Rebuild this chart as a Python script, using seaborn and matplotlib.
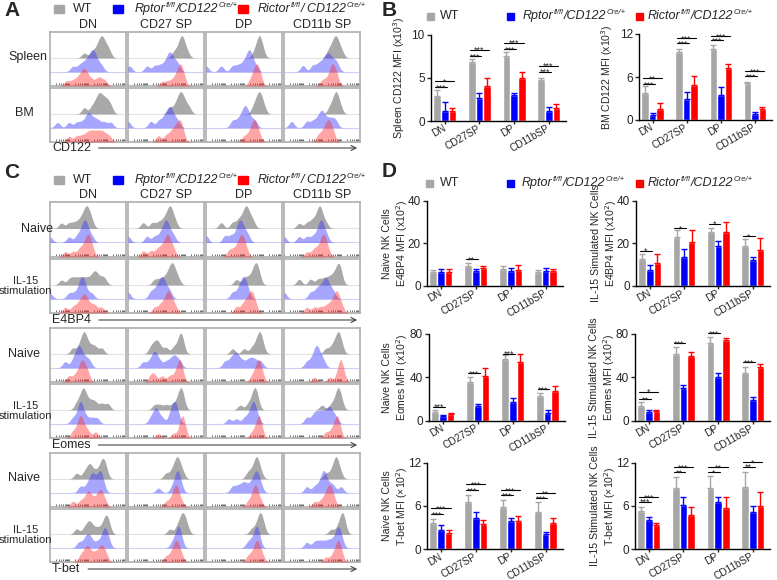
import numpy as np
import pandas as pd
import seaborn as sns
import matplotlib.pyplot as plt
from matplotlib.patches import Rectangle, FancyArrowPatch

W, H = 777, 580

# ---------------- data ----------------
CELL_TYPES = ['DN', 'CD27SP', 'DP', 'CD11bSP']
FLOW_COLUMNS = ['DN', 'CD27 SP', 'DP', 'CD11b SP']
GENOTYPES = ['WT', 'Rptor', 'Rictor']

# bar charts: rows are WT, Rptor, Rictor; values per cell type
SPLEEN_CD122 = [[2.85, 6.85, 7.55, 4.7], [1.2, 2.7, 2.95, 1.15], [1.1, 4.0, 4.95, 1.5]]
SPLEEN_CD122_ERR = [[0.7, 0.3, 0.4, 0.3], [1.05, 0.55, 0.3, 0.5], [0.45, 1.0, 0.75, 0.45]]
BM_CD122 = [[3.8, 9.5, 9.9, 5.1], [0.7, 3.0, 3.5, 0.85], [1.6, 4.9, 7.2, 1.6]]
BM_CD122_ERR = [[0.95, 0.4, 0.55, 0.25], [0.3, 0.95, 1.15, 0.3], [0.8, 1.25, 0.55, 0.25]]
E4BP4_NAIVE_MFI = [[6.6, 9.4, 8.1, 6.7], [6.6, 7.0, 6.9, 7.1], [6.7, 8.4, 7.6, 7.1]]
E4BP4_NAIVE_ERR = [[0.7, 1.2, 1.5, 0.9], [1.6, 0.8, 1.7, 1.2], [1.1, 1.2, 2.3, 0.8]]
E4BP4_IL15_MFI = [[12.8, 22.8, 25.1, 18.9], [7.7, 13.8, 18.9, 12.3], [10.8, 20.5, 25.1, 16.9]]
E4BP4_IL15_ERR = [[2.3, 3.4, 2.3, 3.1], [2.0, 3.4, 2.3, 1.2], [4.0, 5.7, 5.1, 5.6]]
EOMES_NAIVE_MFI = [[7.7, 36, 56.6, 23], [4.6, 13.5, 17.5, 7.1], [6.5, 41.5, 54.5, 27.7]]
EOMES_NAIVE_ERR = [[2.1, 4, 4, 2.8], [0.9, 1.6, 3.1, 2.7], [0.9, 6.8, 7.5, 4.3]]
EOMES_IL15_MFI = [[13.8, 61.5, 71.4, 44.3], [8.3, 29.8, 40, 19.1], [8.9, 59.7, 74.5, 49.8]]
EOMES_IL15_ERR = [[3.7, 6.8, 6.1, 5.5], [1.5, 3.1, 4.3, 3.1], [0.6, 4.0, 2.1, 2.5]]
TBET_NAIVE_MFI = [[3.7, 6.6, 5.9, 5.2], [2.7, 4.3, 3.9, 2.1], [2.26, 3.5, 3.9, 3.6]]
TBET_NAIVE_ERR = [[0.5, 0.9, 1.0, 1.4], [0.7, 0.9, 0.4, 0.35], [0.45, 0.55, 0.7, 0.7]]
TBET_IL15_MFI = [[5.3, 8.45, 8.55, 8.7], [4.05, 6.1, 6.6, 5.1], [3.4, 4.75, 5.7, 6.05]]
TBET_IL15_ERR = [[0.5, 1.55, 1.65, 2.05], [0.45, 1.2, 0.6, 0.95], [0.2, 1.05, 1.6, 1.95]]

# significance: (cell type, compared genotype, height, label)
SPLEEN_SIG = [(0, 1, 3.9, '***'), (0, 2, 4.6, '*'), (1, 1, 7.5, '***'), (1, 2, 8.25, '***'),
              (2, 1, 8.35, '***'), (2, 2, 9.05, '***'), (3, 1, 5.7, '***'), (3, 2, 6.4, '***')]
BM_SIG = [(0, 1, 5.0, '***'), (0, 2, 5.8, '**'), (1, 1, 10.7, '***'), (1, 2, 11.4, '***'),
          (2, 1, 11.1, '***'), (2, 2, 11.75, '***'), (3, 1, 6.15, '***'), (3, 2, 6.85, '***')]
E4BP4_NAIVE_SIG = [(1, 1, 12.5, '**')]
E4BP4_IL15_SIG = [(0, 1, 16.6, '*'), (1, 1, 27.1, '*'), (2, 1, 29.2, '*'), (3, 1, 23.5, '*')]
EOMES_NAIVE_SIG = [(0, 1, 12.9, '***'), (1, 1, 43.7, '***'), (2, 1, 62, '***'), (3, 1, 29.2, '***')]
EOMES_IL15_SIG = [(0, 1, 20, '**'), (0, 2, 26.8, '*'), (1, 1, 71.4, '***'), (2, 1, 80.6, '***'),
                  (3, 1, 53.8, '***')]
TBET_NAIVE_SIG = [(0, 1, 4.9, '***'), (0, 2, 5.7, '***'), (1, 1, 8.2, '***'), (1, 2, 9.0, '***'),
                  (2, 1, 7.5, '***'), (2, 2, 8.2, '***'), (3, 1, 7.1, '***'), (3, 2, 7.75, '**')]
TBET_IL15_SIG = [(0, 1, 6.6, '***'), (0, 2, 7.2, '***'), (1, 1, 10.7, '**'), (1, 2, 11.35, '***'),
                 (2, 1, 10.65, '*'), (2, 2, 11.4, '**'), (3, 1, 11.45, '**'), (3, 2, 12.1, '*')]

# flow histograms: per column, event positions (0-1 of axis) for WT, Rptor, Rictor
A_SPLEEN = [
    [[0.45, 0.55, 0.6, 0.63, 0.66, 0.67, 0.68, 0.7, 0.72, 0.75, 0.78],
     [0.3, 0.38, 0.43, 0.47, 0.5, 0.53, 0.55, 0.56, 0.58, 0.6, 0.63, 0.68],
     [0.22, 0.3, 0.36, 0.4, 0.43, 0.45, 0.47, 0.5, 0.55, 0.62, 0.66, 0.72]],
    [[0.6, 0.65, 0.68, 0.7, 0.71, 0.72, 0.74, 0.78],
     [0.02, 0.25, 0.35, 0.42, 0.48, 0.52, 0.54, 0.56, 0.58, 0.62, 0.66],
     [0.45, 0.52, 0.58, 0.62, 0.65, 0.67, 0.68, 0.69, 0.7, 0.72, 0.74]],
    [[0.63, 0.67, 0.69, 0.7, 0.71, 0.72, 0.75],
     [0.0, 0.2, 0.35, 0.42, 0.48, 0.52, 0.55, 0.57, 0.58, 0.6, 0.65],
     [0.58, 0.62, 0.64, 0.66, 0.67, 0.68, 0.7, 0.72]],
    [[0.58, 0.62, 0.65, 0.67, 0.68, 0.7, 0.72, 0.76],
     [0.25, 0.38, 0.45, 0.5, 0.54, 0.57, 0.59, 0.62, 0.66, 0.7],
     [0.5, 0.55, 0.6, 0.62, 0.63, 0.64, 0.66, 0.68, 0.7]],
]
A_BM = [
    [[0.45, 0.55, 0.6, 0.63, 0.65, 0.67, 0.7, 0.73, 0.76, 0.8],
     [0.1, 0.25, 0.35, 0.42, 0.48, 0.5, 0.52, 0.56, 0.6, 0.65, 0.72, 0.8],
     [0.25, 0.35, 0.42, 0.48, 0.52, 0.56, 0.6, 0.64, 0.68, 0.72, 0.78]],
    [[0.55, 0.62, 0.66, 0.68, 0.7, 0.72, 0.75, 0.8],
     [0.0, 0.3, 0.4, 0.46, 0.5, 0.53, 0.55, 0.57, 0.6, 0.65],
     [0.4, 0.5, 0.56, 0.6, 0.63, 0.66, 0.68, 0.7, 0.72]],
    [[0.62, 0.66, 0.68, 0.7, 0.71, 0.73, 0.76],
     [0.35, 0.42, 0.47, 0.5, 0.52, 0.54, 0.58, 0.64],
     [0.5, 0.56, 0.6, 0.62, 0.63, 0.65, 0.67, 0.7]],
    [[0.6, 0.64, 0.67, 0.68, 0.69, 0.71, 0.74],
     [0.1, 0.3, 0.38, 0.44, 0.48, 0.5, 0.53, 0.58, 0.63, 0.68],
     [0.45, 0.5, 0.54, 0.56, 0.58, 0.6, 0.62, 0.65]],
]
E4BP4_NAIVE = [
    [[0.15, 0.25, 0.32, 0.38, 0.42, 0.45, 0.47, 0.48, 0.5, 0.52, 0.55],
     [0.0, 0.25, 0.35, 0.4, 0.43, 0.45, 0.46, 0.48, 0.5, 0.55],
     [0.2, 0.3, 0.38, 0.42, 0.46, 0.48, 0.5, 0.51, 0.53, 0.56]],
    [[0.2, 0.32, 0.4, 0.46, 0.5, 0.53, 0.55, 0.56, 0.58, 0.62],
     [0.0, 0.25, 0.35, 0.42, 0.46, 0.49, 0.5, 0.52, 0.55, 0.6],
     [0.2, 0.3, 0.38, 0.43, 0.47, 0.5, 0.52, 0.53, 0.56, 0.6]],
    [[0.2, 0.35, 0.42, 0.46, 0.5, 0.52, 0.53, 0.55, 0.58, 0.62],
     [0.0, 0.25, 0.33, 0.4, 0.43, 0.45, 0.47, 0.5, 0.55],
     [0.3, 0.35, 0.4, 0.43, 0.45, 0.47, 0.48, 0.5, 0.53]],
    [[0.2, 0.3, 0.36, 0.4, 0.44, 0.46, 0.47, 0.48, 0.5, 0.55],
     [0.0, 0.2, 0.3, 0.38, 0.44, 0.47, 0.48, 0.5, 0.52, 0.56],
     [0.3, 0.38, 0.42, 0.46, 0.49, 0.51, 0.52, 0.53, 0.55, 0.58]],
]
E4BP4_IL15 = [
    [[0.15, 0.25, 0.3, 0.35, 0.4, 0.45, 0.5, 0.55, 0.58, 0.6, 0.63, 0.68, 0.72],
     [0.0, 0.25, 0.32, 0.38, 0.4, 0.42, 0.43, 0.45, 0.48, 0.55],
     [0.2, 0.3, 0.36, 0.4, 0.43, 0.45, 0.47, 0.5, 0.55, 0.6, 0.68]],
    [[0.35, 0.42, 0.48, 0.52, 0.55, 0.57, 0.58, 0.6, 0.62, 0.66],
     [0.0, 0.3, 0.36, 0.4, 0.43, 0.45, 0.47, 0.5, 0.55],
     [0.35, 0.42, 0.46, 0.5, 0.52, 0.53, 0.55, 0.58, 0.62]],
    [[0.4, 0.5, 0.55, 0.6, 0.63, 0.65, 0.66, 0.68, 0.7],
     [0.35, 0.42, 0.46, 0.48, 0.5, 0.52, 0.55],
     [0.4, 0.48, 0.52, 0.56, 0.58, 0.6, 0.62, 0.65]],
    [[0.2, 0.35, 0.45, 0.52, 0.58, 0.63, 0.67, 0.7, 0.72, 0.73, 0.75],
     [0.0, 0.35, 0.42, 0.46, 0.5, 0.53, 0.55, 0.57, 0.6, 0.65],
     [0.3, 0.4, 0.48, 0.55, 0.6, 0.64, 0.67, 0.69, 0.7, 0.72, 0.76]],
]
EOMES_NAIVE = [
    [[0.3, 0.38, 0.42, 0.44, 0.45, 0.47, 0.5, 0.55, 0.6, 0.68],
     [0.2, 0.3, 0.34, 0.37, 0.38, 0.4, 0.43, 0.47, 0.52],
     [0.25, 0.33, 0.38, 0.41, 0.42, 0.44, 0.47, 0.5]],
    [[0.3, 0.35, 0.38, 0.42, 0.5, 0.6, 0.66, 0.69, 0.7, 0.72],
     [0.2, 0.28, 0.33, 0.35, 0.37, 0.42, 0.5, 0.56, 0.6, 0.63, 0.68],
     [0.3, 0.35, 0.45, 0.55, 0.62, 0.66, 0.68, 0.69, 0.71]],
    [[0.35, 0.5, 0.6, 0.65, 0.68, 0.7, 0.71, 0.72, 0.75],
     [0.25, 0.32, 0.36, 0.4, 0.42, 0.48, 0.55, 0.6, 0.65, 0.72],
     [0.6, 0.64, 0.67, 0.68, 0.69, 0.7, 0.72, 0.74]],
    [[0.55, 0.62, 0.66, 0.69, 0.71, 0.72, 0.73, 0.76],
     [0.3, 0.36, 0.4, 0.42, 0.43, 0.45, 0.48, 0.52],
     [0.4, 0.6, 0.7, 0.73, 0.74, 0.75, 0.76, 0.78]],
]
EOMES_IL15 = [
    [[0.35, 0.4, 0.43, 0.44, 0.46, 0.5, 0.55, 0.6, 0.68, 0.76],
     [0.3, 0.36, 0.39, 0.4, 0.41, 0.43, 0.48, 0.55, 0.62],
     [0.3, 0.36, 0.39, 0.4, 0.42, 0.45, 0.5, 0.6]],
    [[0.35, 0.42, 0.5, 0.58, 0.64, 0.67, 0.69, 0.7, 0.71, 0.73],
     [0.3, 0.35, 0.37, 0.39, 0.45, 0.55, 0.58, 0.6, 0.62, 0.63, 0.66],
     [0.4, 0.6, 0.68, 0.7, 0.71, 0.72, 0.73, 0.75]],
    [[0.45, 0.55, 0.6, 0.62, 0.64, 0.65, 0.66, 0.68],
     [0.3, 0.4, 0.5, 0.55, 0.59, 0.61, 0.62, 0.63, 0.65, 0.68],
     [0.6, 0.65, 0.68, 0.69, 0.7, 0.71, 0.73]],
    [[0.5, 0.62, 0.67, 0.7, 0.71, 0.72, 0.73, 0.76],
     [0.3, 0.38, 0.42, 0.46, 0.5, 0.54, 0.58, 0.6, 0.63, 0.68],
     [0.55, 0.62, 0.66, 0.69, 0.7, 0.71, 0.73]],
]
TBET_NAIVE = [
    [[0.35, 0.45, 0.5, 0.52, 0.55, 0.6, 0.65, 0.68, 0.7, 0.71, 0.74],
     [0.4, 0.48, 0.53, 0.55, 0.57, 0.6, 0.64, 0.66, 0.67, 0.7],
     [0.3, 0.4, 0.46, 0.5, 0.51, 0.55, 0.6, 0.64, 0.66, 0.68, 0.72]],
    [[0.5, 0.57, 0.61, 0.63, 0.65, 0.66, 0.68, 0.72],
     [0.4, 0.58, 0.62, 0.64, 0.65, 0.66, 0.67, 0.7],
     [0.5, 0.56, 0.6, 0.62, 0.63, 0.64, 0.66, 0.7]],
    [[0.55, 0.6, 0.64, 0.66, 0.67, 0.68, 0.72],
     [0.35, 0.42, 0.48, 0.52, 0.58, 0.62, 0.65, 0.67, 0.68, 0.72],
     [0.55, 0.6, 0.63, 0.64, 0.65, 0.66, 0.68, 0.72]],
    [[0.55, 0.62, 0.66, 0.68, 0.69, 0.7, 0.74],
     [0.3, 0.4, 0.46, 0.5, 0.52, 0.53, 0.55, 0.6, 0.65, 0.75],
     [0.4, 0.48, 0.53, 0.56, 0.58, 0.6, 0.61, 0.63, 0.66]],
]
TBET_IL15 = [
    [[0.35, 0.45, 0.5, 0.52, 0.56, 0.62, 0.68, 0.72, 0.74, 0.75, 0.78],
     [0.38, 0.45, 0.49, 0.51, 0.55, 0.62, 0.68, 0.71, 0.72, 0.74, 0.77],
     [0.4, 0.45, 0.48, 0.5, 0.53, 0.58, 0.62, 0.66, 0.68, 0.7, 0.74]],
    [[0.55, 0.64, 0.68, 0.7, 0.72, 0.73, 0.75, 0.78],
     [0.58, 0.62, 0.65, 0.66, 0.67, 0.68, 0.7],
     [0.5, 0.56, 0.6, 0.62, 0.63, 0.65, 0.67, 0.7]],
    [[0.6, 0.66, 0.69, 0.71, 0.72, 0.73, 0.76],
     [0.55, 0.6, 0.64, 0.66, 0.67, 0.68, 0.7],
     [0.55, 0.6, 0.64, 0.66, 0.67, 0.68, 0.71, 0.74]],
    [[0.62, 0.7, 0.74, 0.76, 0.77, 0.78, 0.8],
     [0.3, 0.4, 0.46, 0.52, 0.58, 0.63, 0.68, 0.7, 0.72, 0.73, 0.76],
     [0.55, 0.63, 0.67, 0.7, 0.71, 0.72, 0.73, 0.76]],
]

# ---------------- style ----------------
sns.set_theme(style='ticks')
plt.rcParams['font.family'] = ['Liberation Sans', 'DejaVu Sans']

BAR_COLORS = ['#a6a6a6', '#0000ff', '#ff0000']
FILL_COLORS = ['#8c8c8c', '#3a3aff', '#ff2a2a']
FILL_ALPHA = [0.75, 0.45, 0.42]
BASES = [0.52, 0.265, 0.0]
KERNEL = 0.034
DENS_FLOOR = 4.2

fig = plt.figure(figsize=(W / 100, H / 100), dpi=100)
renderer = fig.canvas.get_renderer()


def px_axes(l, t, r, b):
    return fig.add_axes([l / W, 1 - b / H, (r - l) / W, (b - t) / H])


def ftext(x, y, s, **kw):
    kw.setdefault('fontsize', 9)
    return fig.text(x / W, 1 - y / H, s, **kw)


def rich_text(x, y, pieces, size=9):
    # italic text with small raised parts, laid out piece by piece
    cx = x
    for s, sup in pieces:
        t = ftext(cx, y - (3.5 if sup else 0), s, fontsize=size * 0.62 if sup else size,
                  style='italic', va='center')
        cx += t.get_window_extent(renderer).width + (0.5 if sup else 0)


# ---------------- flow histograms ----------------
COL_X = [(50, 126), (128, 204), (206, 282), (284, 360)]
DECADE_TICKS = [d + 0.25 * np.log10(k) for d in (0, 0.25, 0.5, 0.75) for k in range(1, 10)]


def flow_cell(box, hists):
    l, t, r, b = box
    cell = px_axes(l, t, r, b)
    cell.set_xlim(0, 1)
    cell.set_ylim(0, 1)
    cell.set_yticks([])
    cell.set_xticks(DECADE_TICKS)
    cell.set_xticklabels([])
    cell.tick_params(axis='x', direction='in', length=2, width=0.6, colors='#555555')
    for s in cell.spines.values():
        s.set_color('#b4b4b4')
        s.set_linewidth(1.3)
    cell.axhline(BASES[0], color='#e2e2e2', lw=0.8)
    cell.axhline(BASES[1], color='#cfcff4', lw=0.8)
    h = b - t
    for g, events in enumerate(hists):
        sb = b - BASES[g] * h
        ax = px_axes(l, sb - 0.42 * h, r, sb)
        ev = np.asarray(events)
        sns.kdeplot(x=ev, bw_method=KERNEL / ev.std(ddof=1), fill=True, color=FILL_COLORS[g],
                    alpha=FILL_ALPHA[g], linewidth=0, clip=(0, 1), gridsize=300, ax=ax)
        ymax = max(p.vertices[:, 1].max() for p in ax.collections[0].get_paths())
        ax.set_xlim(0, 1)
        ax.set_ylim(0, max(ymax, DENS_FLOOR) * 1.02)
        ax.axis('off')
        ax.patch.set_alpha(0)


def flow_block(rows, tops, label, label_y):
    for hist_row, (t, b) in zip(rows, tops):
        for hists, (l, r) in zip(hist_row, COL_X):
            flow_cell((l, t, r, b), hists)
    txt = ftext(52, label_y, label, va='center')
    x0 = 52 + txt.get_window_extent(renderer).width + 5
    fig.add_artist(FancyArrowPatch((x0 / W, 1 - label_y / H), (360 / W, 1 - label_y / H),
                                   transform=fig.transFigure, arrowstyle='->', mutation_scale=9,
                                   color='#444444', lw=0.8))


def col_titles(y):
    for name, (l, r) in zip(FLOW_COLUMNS, COL_X):
        ftext((l + r) / 2, y, name, ha='center', va='center')


RPTOR_LABEL = [('Rptor', False), ('fl/fl', True), ('/CD122', False), ('Cre/+', True)]
RICTOR_LABEL = [('Rictor', False), ('fl/fl', True), ('/ CD122', False), ('Cre/+', True)]
RICTOR_LABEL_B = [('Rictor', False), ('fl/fl', True), ('/CD122', False), ('Cre/+', True)]


def legend_row(y, rects, texts, w, h, rictor):
    for xr, c in zip(rects, BAR_COLORS):
        fig.add_artist(Rectangle((xr / W, 1 - (y + h / 2) / H), w / W, h / H, color=c,
                                 transform=fig.transFigure))
    ftext(texts[0], y, 'WT', va='center')
    rich_text(texts[1], y, RPTOR_LABEL)
    rich_text(texts[2], y, rictor)


# Panel A
ftext(4, 11, 'A', fontsize=15, fontweight='bold', va='center')
legend_row(9, [54, 113, 238], [73, 135, 258], 10, 8, RICTOR_LABEL)
col_titles(25)
flow_block([A_SPLEEN, A_BM], [(32, 86), (88, 142)], 'CD122', 148)
ftext(28, 57, 'Spleen', ha='center', va='center')
ftext(24, 113, 'BM', ha='center', va='center')

# Panel C
ftext(4, 173, 'C', fontsize=15, fontweight='bold', va='center')
legend_row(180, [54, 113, 238], [73, 135, 258], 10, 8, RICTOR_LABEL)
col_titles(195)
flow_block([E4BP4_NAIVE, E4BP4_IL15], [(202, 257), (259, 313)], 'E4BP4', 320)
flow_block([EOMES_NAIVE, EOMES_IL15], [(328, 382), (384, 438)], 'Eomes', 445)
flow_block([TBET_NAIVE, TBET_IL15], [(453, 507), (509, 562)], 'T-bet', 569)
for y, x in [(229, 37), (354, 24), (478, 24)]:
    ftext(x, y, 'Naive', ha='center', va='center')
for y in (286, 411, 535):
    ftext(25.5, y, 'IL-15\nstimulation', ha='center', va='center', linespacing=1.0, fontsize=8)


# ---------------- bar charts ----------------
def bar_chart(box, means, errs, sig, ymax, ylabel, label_gap):
    ax = px_axes(*box)
    df = pd.DataFrame({'cell': np.tile(CELL_TYPES, 3),
                       'genotype': np.repeat(GENOTYPES, 4),
                       'mfi': np.concatenate(means)})
    sns.barplot(data=df, x='cell', y='mfi', hue='genotype', palette=BAR_COLORS, saturation=1,
                width=0.66, errorbar=None, legend=False, ax=ax)
    bars = sorted(ax.patches, key=lambda p: p.get_x())
    for i, p in enumerate(bars):
        c, g = divmod(i, 3)
        x = p.get_x() + p.get_width() / 2
        ax.errorbar(x, means[g][c], yerr=[[0], [errs[g][c]]], fmt='none', ecolor=BAR_COLORS[g],
                    elinewidth=1, capsize=2.2, capthick=1)
    for c, g, y, stars in sig:
        gray, tgt = bars[3 * c], bars[3 * c + g]
        x0 = gray.get_x() + 0.2 * gray.get_width()
        x1 = tgt.get_x() + 0.75 * tgt.get_width()
        ax.plot([x0, x1], [y, y], color='black', lw=0.8, clip_on=False)
        ax.annotate(stars, ((x0 + x1) / 2, y), xytext=(0, -2.5), textcoords='offset points',
                    ha='center', va='baseline', fontsize=6.5, annotation_clip=False)
    ax.set_xlim(-0.4, 3.5)
    ax.set_ylim(0, ymax)
    ax.set_yticks([0, ymax / 2, ymax])
    ax.set_yticklabels([f'{v:g}' for v in (0, ymax / 2, ymax)])
    ax.set_xlabel('')
    ax.set_ylabel(ylabel, fontsize=7.6, linespacing=1.15)
    ax.yaxis.set_label_coords(-label_gap / (box[2] - box[0]), 0.5)
    ax.tick_params(axis='y', labelsize=8.5, length=3, width=1, pad=1.5)
    ax.tick_params(axis='x', labelsize=7.2, length=2.5, width=1, pad=2.2)
    ax.set_xticks(range(4))
    ax.set_xticklabels(CELL_TYPES, rotation=30, ha='right', va='center', rotation_mode='anchor')
    for s in ('left', 'bottom'):
        ax.spines[s].set_linewidth(1)
        ax.spines[s].set_color('black')
    sns.despine(ax=ax)
    return ax


# Panel B
ftext(382, 11, 'B', fontsize=15, fontweight='bold', va='center')
legend_row(16, [427, 507, 636], [440, 523, 648], 7, 7, RICTOR_LABEL_B)
bar_chart((431, 34.5, 566, 121), SPLEEN_CD122, SPLEEN_CD122_ERR, SPLEEN_SIG, 10,
          'Spleen CD122 MFI (x10$^3$)', 24)
bar_chart((639, 34, 772, 120), BM_CD122, BM_CD122_ERR, BM_SIG, 12, 'BM CD122 MFI (x10$^3$)', 24)

# Panel D
ftext(382, 172, 'D', fontsize=15, fontweight='bold', va='center')
legend_row(183, [426, 507, 636], [440, 522, 648], 7, 7, RICTOR_LABEL_B)
bar_chart((427, 200.7, 563, 286), E4BP4_NAIVE_MFI, E4BP4_NAIVE_ERR, E4BP4_NAIVE_SIG, 40,
          'Naive NK Cells\nE4BP4 MFI (x10$^2$)', 17)
bar_chart((636, 200.7, 770, 286), E4BP4_IL15_MFI, E4BP4_IL15_ERR, E4BP4_IL15_SIG, 40,
          'IL-15 Simulated NK Cells\nE4BP4 MFI (x10$^2$)', 17)
bar_chart((429, 334, 565, 420.7), EOMES_NAIVE_MFI, EOMES_NAIVE_ERR, EOMES_NAIVE_SIG, 80,
          'Naive NK Cells\nEomes MFI (x10$^2$)', 19)
bar_chart((635, 334, 770, 420.7), EOMES_IL15_MFI, EOMES_IL15_ERR, EOMES_IL15_SIG, 80,
          'IL-15 Stimulated NK Cells\nEomes MFI (x10$^2$)', 18)
bar_chart((427, 462.7, 563, 549.3), TBET_NAIVE_MFI, TBET_NAIVE_ERR, TBET_NAIVE_SIG, 12,
          'Naive NK Cells\nT-bet MFI (\u00d710$^2$)', 17)
bar_chart((635, 462.7, 770, 549.3), TBET_IL15_MFI, TBET_IL15_ERR, TBET_IL15_SIG, 12,
          'IL-15 Stimulated NK Cells\nT-bet MFI (\u00d710$^2$)', 17)

fig.savefig('out.png', dpi=100)
